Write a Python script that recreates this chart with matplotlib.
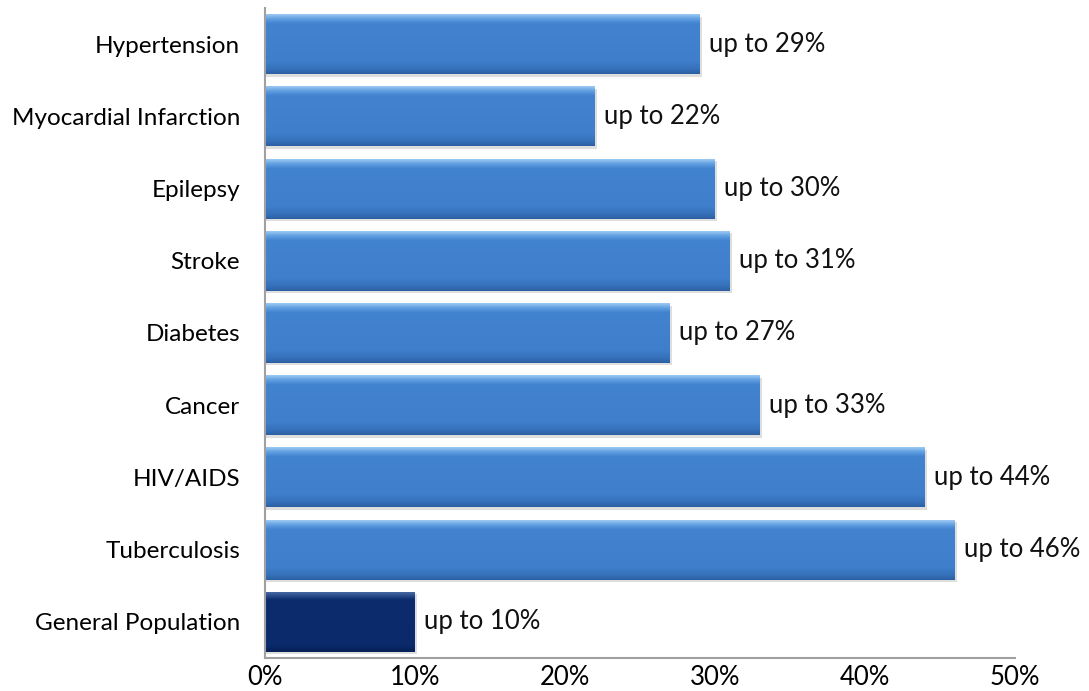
import numpy as np
import matplotlib
matplotlib.use("Agg")
import matplotlib.pyplot as plt
from matplotlib.colors import LinearSegmentedColormap

categories = ["Hypertension", "Myocardial Infarction", "Epilepsy", "Stroke",
              "Diabetes", "Cancer", "HIV/AIDS", "Tuberculosis", "General Population"]
values = [29, 22, 30, 31, 27, 33, 44, 46, 10]
labels = ["up to 29%", "up to 22%", "up to 30%", "up to 31%", "up to 27%",
          "up to 33%", "up to 44%", "up to 46%", "up to 10%"]
xticks = [0, 10, 20, 30, 40, 50]
xticklabels = ["0%", "10%", "20%", "30%", "40%", "50%"]

plt.rcParams['font.family'] = ['Lato', 'DejaVu Sans']

fig = plt.figure(figsize=(10.89, 6.91), dpi=100)
ax = fig.add_axes([265/1089, 1-658/691, 750/1089, 650/691])

n = len(categories)
ypos = np.arange(n)
h = 0.83

blue_cmap = LinearSegmentedColormap.from_list(
    "b", [(0.0, "#2d5fa3"), (0.07, "#3570b9"), (0.2, "#3f7ecb"),
          (0.85, "#4283d0"), (0.93, "#62a0e2"), (1.0, "#98c6f2")])
navy_cmap = LinearSegmentedColormap.from_list(
    "n", [(0.0, "#061f55"), (0.1, "#0a2a6b"), (0.88, "#0c2c6e"), (1.0, "#4466a0")])

grad = np.linspace(0, 1, 64).reshape(-1, 1)
for i, (y, v) in enumerate(zip(ypos, values)):
    cm = navy_cmap if categories[i] == "General Population" else blue_cmap
    ax.barh(y + 0.035, v + 0.12, height=h, left=0, color="#c8c8c8", alpha=0.6, zorder=1)
    bars = ax.barh(y, v, height=h, left=0, color="none", zorder=2)
    im = ax.imshow(grad, cmap=cm, aspect='auto', origin='lower',
                   extent=[0, v, y + h/2, y - h/2], zorder=2)
    im.set_clip_path(bars[0])
    ax.text(v + 0.6, y, labels[i], va='center', ha='left', fontsize=18.5, color='#111111', zorder=3)

ax.set_xlim(0, 50)
ax.set_ylim(n - 0.5, -0.5)
ax.set_yticks(ypos)
ax.set_yticklabels(categories, fontsize=17.5)
ax.set_xticks(xticks)
ax.set_xticklabels(xticklabels, fontsize=18.5)
ax.tick_params(axis='both', length=0)
ax.tick_params(axis='y', pad=18)
ax.tick_params(axis='x', pad=5)
for s in ["top", "right"]:
    ax.spines[s].set_visible(False)
for s in ["left", "bottom"]:
    ax.spines[s].set_color("#a0a0a0")
    ax.spines[s].set_linewidth(1.5)

fig.savefig("out.png", dpi=100)
